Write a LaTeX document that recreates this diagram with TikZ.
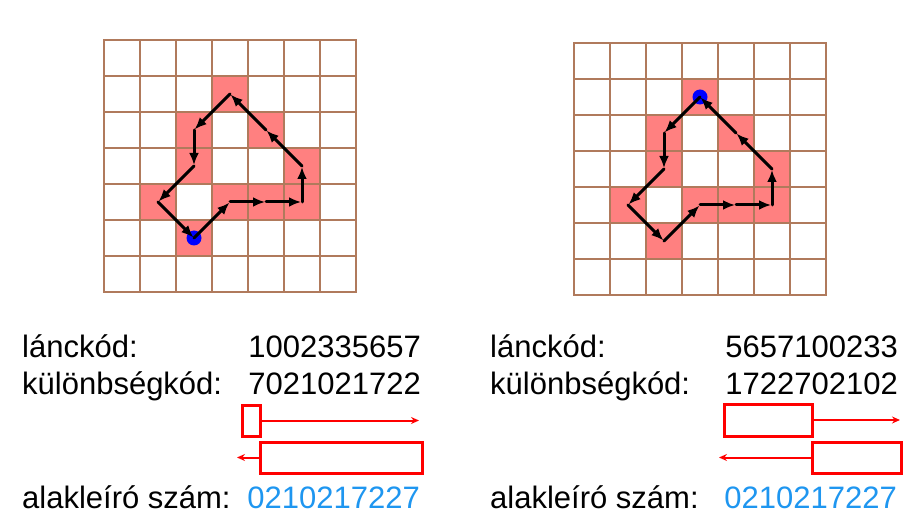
\documentclass[tikz,border=0pt]{standalone}
\usepackage{fontspec}
\setmainfont{Liberation Sans}
\usetikzlibrary{arrows.meta}
\definecolor{gridc}{RGB}{176,122,92}
\definecolor{cellc}{RGB}{255,128,128}
\definecolor{codeblue}{RGB}{30,150,240}
\tikzset{
  gridline/.style={draw=gridc, line width=2.2pt, line cap=rect},
  chainseg/.style={line width=3pt, line cap=round, -{Latex[length=12pt,width=10pt]}, shorten >=1pt},
  lbl/.style={anchor=base west, inner sep=0pt, font=\fontsize{31}{37}\selectfont},
  num/.style={anchor=base east, inner sep=0pt, font=\fontsize{31}{37}\selectfont},
  redbox/.style={draw=red, line width=3pt, inner sep=0pt, outer sep=0pt},
  redarrow/.style={draw=red, line width=2pt, -{Stealth[length=8pt,width=7pt]}},
  startdot/.style={fill=blue},
}
\newcommand\chaingrid[3]{%
  \begin{scope}[shift={(#2,#3)}]
    \foreach \c/\r in {3/1,2/2,4/2,2/3,5/3,1/4,3/4,4/4,5/4,2/5}
      \fill[cellc] (\c*36,\r*36) rectangle ++(36,36);
    \foreach \i in {0,...,7} {
      \draw[gridline] (\i*36,0) -- (\i*36,252);
      \draw[gridline] (0,\i*36) -- (252,\i*36);
    }
    \foreach \c in {0,...,6} \foreach \r in {0,...,6}
      \coordinate (#1-\c-\r) at (\c*36+18,\r*36+18);
  \end{scope}}
\begin{document}
\begin{tikzpicture}[x=1pt,y=-1pt]
\useasboundingbox (0,0) rectangle (918,526);

% grids
\chaingrid{L}{104}{40}
\chaingrid{R}{574}{43}

% start dots
\fill[startdot] (L-2-5) circle (7.5pt);
\fill[startdot] (R-3-1) circle (7.5pt);

% chains
\foreach \a/\b/\c/\d in {2/5/3/4, 3/4/4/4, 4/4/5/4, 5/4/5/3, 5/3/4/2, 4/2/3/1, 3/1/2/2, 2/2/2/3, 2/3/1/4, 1/4/2/5}
  \draw[chainseg] (L-\a-\b) -- (L-\c-\d);
\foreach \a/\b/\c/\d in {3/1/2/2, 2/2/2/3, 2/3/1/4, 1/4/2/5, 2/5/3/4, 3/4/4/4, 4/4/5/4, 5/4/5/3, 5/3/4/2, 4/2/3/1}
  \draw[chainseg] (R-\a-\b) -- (R-\c-\d);

% left texts
\node[lbl] (lt1) at (22,358) {lánckód:};
\node[num] (ln1) at (421,358) {1002335657};
\node[lbl] (lt2) at (22,394) {különbségkód:};
\node[num] (ln2) at (421,394) {7021021722};
\node[lbl] (lt3) at (22,508) {alakleíró szám:};
\node[num, text=codeblue] (ln3) at (420,508) {0210217227};

% right texts
\node[lbl] (rt1) at (490,358) {lánckód:};
\node[num] (rn1) at (898,358) {5657100233};
\node[lbl] (rt2) at (490,394) {különbségkód:};
\node[num] (rn2) at (898,394) {1722702102};
\node[lbl] (rt3) at (490,508) {alakleíró szám:};
\node[num, text=codeblue] (rn3) at (897,508) {0210217227};

% left red boxes
\node[redbox, minimum width=18pt, minimum height=31pt] (lb1) at (251,420.5) {};
\coordinate (la1) at (419,420.5);
\draw[redarrow] (lb1.east) -- (la1);
\node[redbox, minimum width=162pt, minimum height=31pt] (lb2) at (341,457.5) {};
\coordinate (la2) at (237,457.5);
\draw[redarrow] (lb2.west) -- (la2);

% right red boxes
\node[redbox, minimum width=88pt, minimum height=32pt] (rb1) at (768,420) {};
\coordinate (ra1) at (900,420);
\draw[redarrow] (rb1.east) -- (ra1);
\node[redbox, minimum width=89pt, minimum height=31pt] (rb2) at (856.5,457.5) {};
\coordinate (ra2) at (719,457.5);
\draw[redarrow] (rb2.west) -- (ra2);
\end{tikzpicture}
\end{document}
